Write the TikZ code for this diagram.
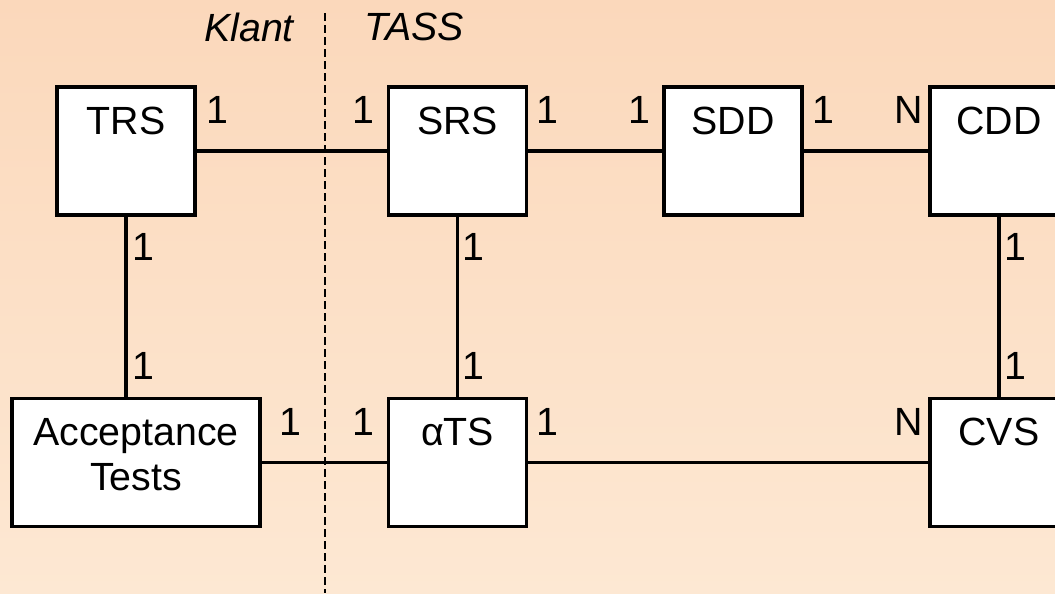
\documentclass[tikz,border=0pt]{standalone}
\usepackage{fontspec}
\setmainfont{Liberation Sans}
\usetikzlibrary{positioning}

\definecolor{bgtop}{RGB}{251,216,187}
\definecolor{bgbot}{RGB}{253,232,211}

\tikzset{
  docbox/.style={draw, line width=2.8pt, fill=white, minimum width=103.5pt,
                 minimum height=96pt, inner sep=0pt},
  boxtitle/.style={anchor=north, inner sep=0pt, yshift=-16pt, align=center,
                   font=\fontsize{29.5}{33.75}\selectfont},
  mult/.style={inner sep=0pt, font=\fontsize{29.5}{33.75}\selectfont},
  side/.style={inner sep=0pt, font=\fontsize{29.5}{33.75}\selectfont\itshape},
  rel/.style={line width=2.8pt},
}

\begin{document}
\begin{tikzpicture}[x=0.75pt,y=-0.75pt]
        % background
            \shade[top color=bgtop, bottom color=bgbot] (0,0) rectangle (1055,593);
            \useasboundingbox (0,0) rectangle (1055,593);

        % draw boundary between Klant and TASS
            \draw[line width=1pt, dash pattern=on 6pt off 3pt] (325,13) -- (325,593);
            \node[side] (klant) at (249,27) {Klant};
            \node[side] (tass)  at (414,27) {TASS};

        % draw documents
            \node[docbox] (trs) at (126,151)   {};
            \node[docbox] (srs) at (457.5,151) {};
            \node[docbox] (sdd) at (733,151)   {};
            \node[docbox] (cdd) at (999,151)   {};
            \node[docbox, minimum width=186pt] (acc) at (136,462.5) {};
            \node[docbox] (ats) at (457.5,462.5) {};
            \node[docbox] (cvs) at (999,462.5)   {};

            \foreach \n/\t in {trs/TRS, srs/SRS, sdd/SDD, cdd/CDD,
                               acc/Acceptance\\Tests, ats/αTS, cvs/CVS}
            \node[boxtitle] (\n-title) at (\n.north) {\t};

        % draw relations
            \draw[rel] (trs) -- (srs);
            \draw[rel] (srs) -- (sdd);
            \draw[rel] (sdd) -- (cdd);
            \draw[rel] (acc) -- (ats);
            \draw[rel] (ats) -- (cvs);
            \draw[rel] (trs.south) -- (trs.south |- acc.north);
            \draw[rel] (srs) -- (ats);
            \draw[rel] (cdd) -- (cvs);

        % multiplicities
            \foreach \x/\y/\t [count=\i] in {217/110/1, 363.5/110/1, 547/110/1, 639.5/110/1,
                                             823/110/1, 908.5/110/N,
                                             143/246.5/1, 143/366/1, 473/246.5/1, 473/366/1,
                                             1015/246.5/1, 1015/366/1,
                                             290.5/421.5/1, 363.5/421.5/1, 547/421.5/1, 908.5/421.5/N}
            \node[mult] (mult\i) at (\x,\y) {\t};
\end{tikzpicture}
\end{document}
